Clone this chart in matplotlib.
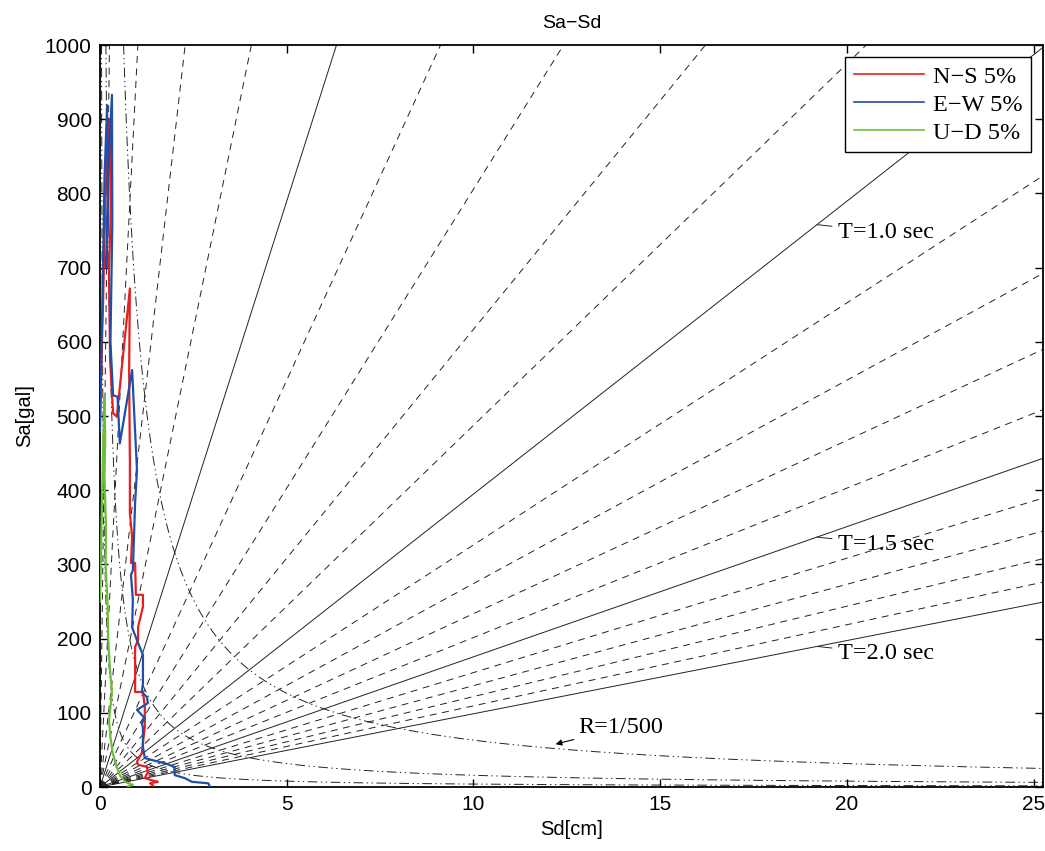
import numpy as np
import matplotlib
matplotlib.use("Agg")
import matplotlib.pyplot as plt

plt.rcParams['lines.scale_dashes'] = False

# ---- data ----
periods = [0.1, 0.2, 0.3, 0.4, 0.5, 0.6, 0.7, 0.8, 0.9, 1.0,
           1.1, 1.2, 1.3, 1.4, 1.5, 1.6, 1.7, 1.8, 1.9, 2.0]
solid_periods = [0.5, 1.0, 1.5, 2.0]
labeled_periods = [1.0, 1.5, 2.0]
drift_ratios = [1/500, 1/1000, 1/2000]
drift_ref = 1/500
drift_const = 4 * np.pi**2 * 16.0   # Sa*Sd for R=1/500

sd_ns = [0.0, 0.08, 0.15, 0.25, 0.30, 0.28, 0.24, 0.27, 0.35, 0.45, 0.80, 0.78, 0.80, 0.80,
         0.86, 0.83, 0.94, 0.96, 1.15, 1.15, 1.02, 1.02, 0.94, 0.94, 1.15, 1.20, 1.20,
         1.18, 1.12, 0.99, 1.02, 1.26, 1.28, 1.20, 1.39, 1.55, 1.34, 1.42]
sa_ns = [500, 650, 800, 900, 880, 760, 697, 575, 504, 499, 672, 560, 440, 369,
         337, 302, 302, 259, 259, 243, 216, 198, 189, 128, 128, 108, 81,
         73, 46, 34, 30, 27, 20, 12, 9, 7, 5, 2]

sd_ew = [0.0, 0.03, 0.08, 0.12, 0.19, 0.21, 0.17, 0.25, 0.32, 0.33, 0.28, 0.35, 0.47, 0.53,
         0.86, 0.99, 0.94, 0.88, 0.83, 0.88, 0.86, 1.02, 1.15, 1.15, 1.12, 1.26, 1.28,
         0.99, 1.12, 1.20, 1.12, 1.15, 1.15, 1.20, 1.42, 1.74, 2.00, 2.00, 2.27, 2.46, 2.90, 2.94]
sa_ew = [480, 560, 700, 820, 919, 780, 700, 860, 933, 760, 600, 528, 526, 463,
         562, 427, 383, 292, 286, 252, 215, 194, 178, 140, 128, 121, 113,
         104, 97, 93, 86, 80, 54, 39, 36, 32, 27, 16, 12, 7, 5, 1]

sd_ud = [0.0, 0.04, 0.08, 0.12, 0.14, 0.12, 0.16, 0.15, 0.20, 0.22, 0.24, 0.28, 0.32,
         0.30, 0.24, 0.28, 0.34, 0.45, 0.53, 0.67, 0.88, 0.75]
sa_ud = [250, 350, 450, 525, 470, 420, 350, 300, 250, 200, 180, 150, 130,
         117, 90, 67, 46, 27, 16, 7, 3, 1]

series_labels = ['N\u2212S 5%', 'E\u2212W 5%', 'U\u2212D 5%']
series_colors = ['#e62020', '#1f4fa8', '#6cbf3a']

xmax, ymax = 25.25, 1000
xticks = [0, 5, 10, 15, 20, 25]
yticks = list(range(0, 1001, 100))

# ---- figure ----
fig = plt.figure(figsize=(10.45, 8.51), dpi=100)
ax = fig.add_axes([0.0957, 0.0752, 0.9023, 0.8718])

sans = 'Liberation Sans'
serif = 'Liberation Serif'

# period lines
xs = np.array([0.0, xmax])
for T in periods:
    w2 = (2 * np.pi / T) ** 2
    if T in solid_periods:
        ax.plot(xs, w2 * xs, color='#222222', lw=0.7, ls='-', zorder=1)
    else:
        ax.plot(xs, w2 * xs, color='#222222', lw=0.7, ls=(0, (5, 4)), zorder=1)

# drift curves
sdc = np.linspace(0.01, xmax, 3000)
for R in drift_ratios:
    c = drift_const * (R / drift_ref) ** 2
    ax.plot(sdc, c / sdc, color='#222222', lw=0.7,
            ls=(0, (7, 2.5, 1, 2.5, 1, 2.5)), zorder=1)

# spectra
l1, = ax.plot(sd_ns, sa_ns, color=series_colors[0], lw=1.6, zorder=3)
l2, = ax.plot(sd_ew, sa_ew, color=series_colors[1], lw=1.6, zorder=3)
l3, = ax.plot(sd_ud, sa_ud, color=series_colors[2], lw=1.6, zorder=3)

# period annotations
for T in labeled_periods:
    w2 = (2 * np.pi / T) ** 2
    x0 = 19.2
    ax.annotate('T=%.1f sec' % T, xy=(x0, w2 * x0), xytext=(19.75, w2 * x0 - 10),
                fontsize=17.5, family=serif, va='center', ha='left',
                arrowprops=dict(arrowstyle='-', color='#222222', lw=0.7,
                                shrinkA=2, shrinkB=0))

# drift annotation
xa = 12.2
ax.annotate('R=1/500', xy=(xa, drift_const / xa + 6), xytext=(12.8, 80),
            fontsize=17.5, family=serif, va='center', ha='left',
            arrowprops=dict(arrowstyle='-|>', color='black', lw=0.8,
                            mutation_scale=9, shrinkA=1, shrinkB=0))

ax.set_xlim(0, xmax)
ax.set_ylim(0, ymax)
ax.set_xticks(xticks)
ax.set_yticks(yticks)
ax.tick_params(direction='in', top=True, right=True, length=6, width=1,
               labelsize=15, pad=6)
for lab in ax.get_xticklabels() + ax.get_yticklabels():
    lab.set_family(sans)
for s in ax.spines.values():
    s.set_linewidth(1.3)

ax.set_title('Sa\u2212Sd', fontsize=14, family=sans, pad=12)
ax.set_xlabel('Sd[cm]', fontsize=14.5, family=sans, labelpad=4)
ax.set_ylabel('Sa[gal]', fontsize=14.5, family=sans, labelpad=8)

leg = ax.legend([l1, l2, l3], series_labels, loc='upper right',
                prop={'family': serif, 'size': 17.5}, frameon=True, fancybox=False,
                edgecolor='black', framealpha=1, borderaxespad=0.5,
                handlelength=2.9, handletextpad=0.35, borderpad=0.35, labelspacing=0.25)
leg.get_frame().set_linewidth(1.0)
for h in leg.legend_handles:
    h.set_linewidth(1.2)

fig.savefig('out.png', dpi=100)
